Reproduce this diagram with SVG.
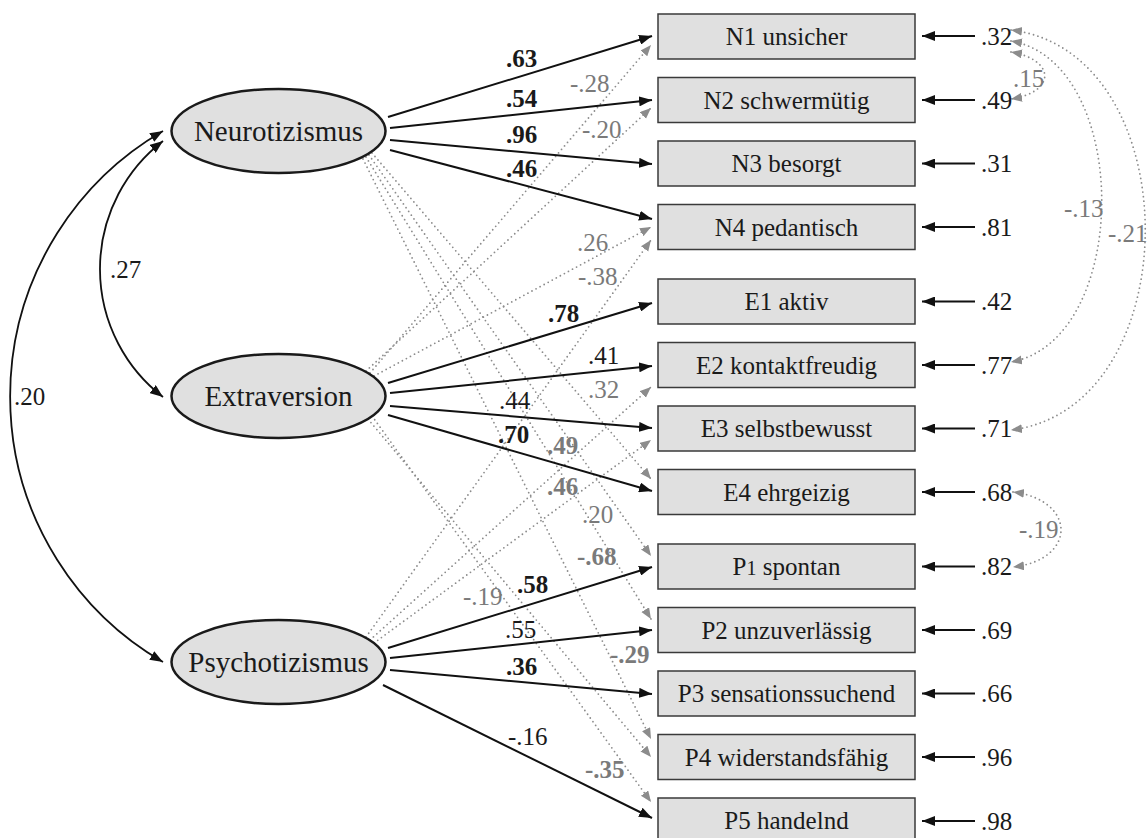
<svg xmlns="http://www.w3.org/2000/svg" width="1147" height="838" viewBox="0 0 1147 838" font-family="'Times New Roman', 'Liberation Serif', 'DejaVu Serif', serif">
<style>
text{font-family:"Times New Roman","Liberation Serif","DejaVu Serif",serif;fill:#1a1a1a}
.lat{font-size:29px;text-anchor:middle}
.obs{font-size:25px;text-anchor:middle}
.n{font-size:25px}
.b{font-weight:bold}
.g{fill:#7a7a7a}
.ell{fill:#e0e0e0;stroke:#1a1a1a;stroke-width:2.5}
.box{fill:#e0e0e0;stroke:#3a3a3a;stroke-width:1.5}
.ld{stroke:#111;stroke-width:2;fill:none;marker-end:url(#ab)}
.cl{stroke:#8c8c8c;stroke-width:1.8;fill:none;stroke-dasharray:0 4.6;stroke-linecap:round;marker-end:url(#ag)}
.rc{stroke:#8c8c8c;stroke-width:1.8;fill:none;stroke-dasharray:0 4.6;stroke-linecap:round;marker-start:url(#ag);marker-end:url(#ag)}
.cv{stroke:#111;stroke-width:1.8;fill:none;marker-start:url(#ab);marker-end:url(#ab)}
.re{stroke:#111;stroke-width:2;fill:none;marker-end:url(#ab)}
</style>
<defs>
<marker id="ab" markerUnits="userSpaceOnUse" markerWidth="14" markerHeight="10" refX="13" refY="5" orient="auto-start-reverse"><path d="M0,0 L13,5 L0,10 z" fill="#111"/></marker>
<marker id="ag" markerUnits="userSpaceOnUse" markerWidth="12" markerHeight="10" refX="11" refY="4.5" orient="auto-start-reverse"><path d="M0,0 L11,4.5 L0,9 z" fill="#8c8c8c"/></marker>
</defs>

<g id="connectors">
<path class="cv" d="M163 141 A161.5 161.5 0 0 0 163 397"/>
<path class="cv" d="M163 131 A307 307 0 0 0 163 662"/>
<path class="cl" d="M370 373 L651 45"/>
<path class="cl" d="M366 371 L651 108"/>
<path class="cl" d="M374 376 L651 227"/>
<path class="cl" d="M366 637 L651 240"/>
<path class="cl" d="M370 640 L651 387"/>
<path class="cl" d="M374 643 L651 440"/>
<path class="cl" d="M372 153 L651 479"/>
<path class="cl" d="M369 155 L651 556"/>
<path class="cl" d="M366 157 L651 619"/>
<path class="cl" d="M363 159 L651 739"/>
<path class="cl" d="M368 419 L651 757"/>
<path class="cl" d="M372 416 L651 802"/>
<path class="ld" d="M388 117 L652 36"/>
<path class="ld" d="M390 128 L652 100"/>
<path class="ld" d="M390 140 L652 164"/>
<path class="ld" d="M390 150 L652 219"/>
<path class="ld" d="M388 383 L652 303"/>
<path class="ld" d="M390 393 L652 366"/>
<path class="ld" d="M390 406 L652 428"/>
<path class="ld" d="M388 415 L652 491"/>
<path class="ld" d="M388 648 L652 567"/>
<path class="ld" d="M390 658 L652 630"/>
<path class="ld" d="M390 670 L652 694"/>
<path class="ld" d="M383 685 L652 818"/>
<path class="re" d="M975 36 L922 36"/>
<path class="re" d="M975 100 L922 100"/>
<path class="re" d="M975 163.5 L922 163.5"/>
<path class="re" d="M975 227 L922 227"/>
<path class="re" d="M975 301.5 L922 301.5"/>
<path class="re" d="M975 365 L922 365"/>
<path class="re" d="M975 428.5 L922 428.5"/>
<path class="re" d="M975 492 L922 492"/>
<path class="re" d="M975 566.5 L922 566.5"/>
<path class="re" d="M975 630 L922 630"/>
<path class="re" d="M975 693.5 L922 693.5"/>
<path class="re" d="M975 757 L922 757"/>
<path class="re" d="M975 821 L922 821"/>
<path class="rc" d="M1011 52 C1056 60 1056 92 1011 99"/>
<path class="rc" d="M1011 41 C1132 62 1132 340 1011 362"/>
<path class="rc" d="M1011 30 C1190 52 1190 408 1011 430"/>
<path class="rc" d="M1013 492 C1077 500 1077 560 1013 567"/>
</g>

<g id="labels">
<text class="n b" x="506" y="67">.63</text>
<text class="n b" x="506" y="107">.54</text>
<text class="n b" x="506" y="143">.96</text>
<text class="n b" x="506" y="177">.46</text>
<text class="n b" x="548" y="322">.78</text>
<text class="n" x="588" y="364">.41</text>
<text class="n" x="499" y="409">.44</text>
<text class="n b" x="498" y="443">.70</text>
<text class="n b" x="517" y="593">.58</text>
<text class="n" x="505" y="638">.55</text>
<text class="n b" x="506" y="675">.36</text>
<text class="n" x="508" y="745">-.16</text>
<text class="n g" x="570" y="92">-.28</text>
<text class="n g" x="582" y="138">-.20</text>
<text class="n g" x="577" y="251">.26</text>
<text class="n g" x="578" y="285">-.38</text>
<text class="n g" x="588" y="398">.32</text>
<text class="n g b" x="547" y="454">.49</text>
<text class="n g b" x="547" y="495">.46</text>
<text class="n g" x="582" y="523">.20</text>
<text class="n g b" x="577" y="565">-.68</text>
<text class="n g" x="463" y="605">-.19</text>
<text class="n g b" x="610" y="663">-.29</text>
<text class="n g b" x="585" y="778">-.35</text>
<text class="n" x="110" y="278">.27</text>
<text class="n" x="14" y="405">.20</text>
<text class="n" x="981" y="45">.32</text>
<text class="n" x="981" y="109">.49</text>
<text class="n" x="981" y="172">.31</text>
<text class="n" x="981" y="236">.81</text>
<text class="n" x="981" y="310">.42</text>
<text class="n" x="981" y="374">.77</text>
<text class="n" x="981" y="437">.71</text>
<text class="n" x="981" y="501">.68</text>
<text class="n" x="981" y="575">.82</text>
<text class="n" x="981" y="639">.69</text>
<text class="n" x="981" y="702">.66</text>
<text class="n" x="981" y="766">.96</text>
<text class="n" x="981" y="830">.98</text>
<text class="n g" x="1013" y="87">.15</text>
<text class="n g" x="1064" y="217">-.13</text>
<text class="n g" x="1108" y="242">-.21</text>
<text class="n g" x="1019" y="538">-.19</text>
</g>

<g id="neurotizismus"><ellipse class="ell" cx="278.5" cy="131" rx="107" ry="42"/><text class="lat" x="278.5" y="141">Neurotizismus</text></g>
<g id="extraversion"><ellipse class="ell" cx="278.5" cy="396" rx="107" ry="42"/><text class="lat" x="278.5" y="406">Extraversion</text></g>
<g id="psychotizismus"><ellipse class="ell" cx="278.5" cy="662" rx="107" ry="42"/><text class="lat" x="278.5" y="672">Psychotizismus</text></g>

<g id="N1"><rect class="box" x="658" y="14" width="257" height="45"/><text class="obs" x="786.5" y="45">N1 unsicher</text></g>
<g id="N2"><rect class="box" x="658" y="77.5" width="257" height="45"/><text class="obs" x="786.5" y="108.5">N2 schwermütig</text></g>
<g id="N3"><rect class="box" x="658" y="141" width="257" height="45"/><text class="obs" x="786.5" y="172">N3 besorgt</text></g>
<g id="N4"><rect class="box" x="658" y="204.5" width="257" height="45"/><text class="obs" x="786.5" y="235.5">N4 pedantisch</text></g>
<g id="E1"><rect class="box" x="658" y="279" width="257" height="45"/><text class="obs" x="786.5" y="310">E1 aktiv</text></g>
<g id="E2"><rect class="box" x="658" y="342.5" width="257" height="45"/><text class="obs" x="786.5" y="373.5">E2 kontaktfreudig</text></g>
<g id="E3"><rect class="box" x="658" y="406" width="257" height="45"/><text class="obs" x="786.5" y="437">E3 selbstbewusst</text></g>
<g id="E4"><rect class="box" x="658" y="469.5" width="257" height="45"/><text class="obs" x="786.5" y="500.5">E4 ehrgeizig</text></g>
<g id="P1"><rect class="box" x="658" y="544" width="257" height="45"/><text class="obs" x="786.5" y="575">P<tspan font-size="20">1</tspan> spontan</text></g>
<g id="P2"><rect class="box" x="658" y="607.5" width="257" height="45"/><text class="obs" x="786.5" y="638.5">P2 unzuverlässig</text></g>
<g id="P3"><rect class="box" x="658" y="671" width="257" height="45"/><text class="obs" x="786.5" y="702">P3 sensationssuchend</text></g>
<g id="P4"><rect class="box" x="658" y="734.5" width="257" height="45"/><text class="obs" x="786.5" y="765.5">P4 widerstandsfähig</text></g>
<g id="P5"><rect class="box" x="658" y="798" width="257" height="45"/><text class="obs" x="786.5" y="829">P5 handelnd</text></g>
</svg>
